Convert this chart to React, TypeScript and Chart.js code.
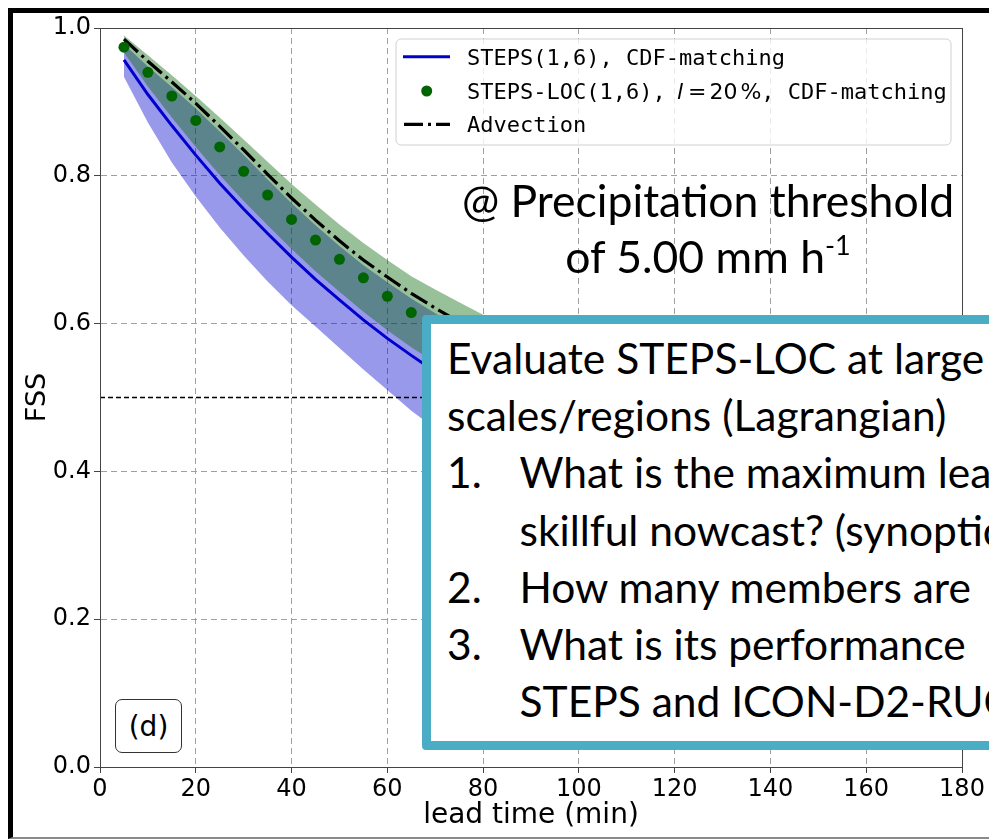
import React, { useEffect, useRef } from "react";
import { Chart, registerables } from "chart.js";
Chart.register(...registerables);

// ---------- data ----------
const leadTimes = [5, 10, 15, 20, 25, 30, 35, 40, 45, 50, 55, 60, 65, 70, 75, 80, 85, 90, 95, 100, 105, 110, 115, 120, 125, 130, 135, 140, 145, 150, 155, 160, 165, 170, 175, 180];
const stepsMean = [0.957, 0.910, 0.868, 0.828, 0.790, 0.755, 0.722, 0.690, 0.660, 0.632, 0.605, 0.580, 0.557, 0.535, 0.515, 0.496, 0.478, 0.461, 0.445, 0.430, 0.416, 0.402, 0.389, 0.377, 0.365, 0.354, 0.343, 0.333, 0.323, 0.314, 0.305, 0.297, 0.289, 0.281, 0.274, 0.267];
const stepsLow = [0.934, 0.872, 0.818, 0.772, 0.730, 0.692, 0.657, 0.625, 0.596, 0.567, 0.538, 0.510, 0.482, 0.458, 0.437, 0.418, 0.400, 0.383, 0.367, 0.352, 0.338, 0.325, 0.313, 0.301, 0.290, 0.280, 0.270, 0.261, 0.252, 0.244, 0.236, 0.229, 0.222, 0.215, 0.209, 0.203];
const stepsHigh = [0.978, 0.948, 0.920, 0.891, 0.860, 0.828, 0.795, 0.763, 0.733, 0.705, 0.679, 0.656, 0.634, 0.614, 0.595, 0.577, 0.560, 0.544, 0.529, 0.515, 0.501, 0.488, 0.476, 0.464, 0.453, 0.442, 0.432, 0.422, 0.413, 0.404, 0.395, 0.387, 0.379, 0.372, 0.365, 0.358];
const locMean = [0.974, 0.940, 0.908, 0.875, 0.839, 0.806, 0.774, 0.741, 0.713, 0.687, 0.662, 0.637, 0.615, 0.594, 0.575, 0.557, 0.540, 0.524, 0.509, 0.495, 0.481, 0.468, 0.456, 0.444, 0.433, 0.422, 0.412, 0.402, 0.393, 0.384, 0.375, 0.367, 0.359, 0.352, 0.345, 0.338];
const locLow = [0.967, 0.921, 0.879, 0.839, 0.801, 0.766, 0.733, 0.701, 0.671, 0.643, 0.616, 0.591, 0.568, 0.547, 0.527, 0.508, 0.490, 0.473, 0.457, 0.442, 0.428, 0.414, 0.401, 0.389, 0.377, 0.366, 0.355, 0.345, 0.335, 0.326, 0.317, 0.309, 0.301, 0.293, 0.286, 0.279];
const locHigh = [0.990, 0.963, 0.936, 0.908, 0.879, 0.849, 0.819, 0.789, 0.761, 0.734, 0.709, 0.686, 0.664, 0.646, 0.629, 0.612, 0.596, 0.581, 0.567, 0.553, 0.540, 0.527, 0.515, 0.503, 0.492, 0.481, 0.471, 0.461, 0.452, 0.443, 0.434, 0.426, 0.418, 0.410, 0.403, 0.396];
const advection = [0.985, 0.955, 0.927, 0.898, 0.867, 0.835, 0.802, 0.770, 0.740, 0.712, 0.686, 0.663, 0.641, 0.621, 0.602, 0.584, 0.567, 0.551, 0.536, 0.522, 0.508, 0.495, 0.483, 0.471, 0.460, 0.449, 0.439, 0.429, 0.420, 0.411, 0.402, 0.394, 0.386, 0.379, 0.372, 0.365];
const skillThreshold = [0.5, 0.5];
const thresholdX = [0, 180];

const xTickValues = [0, 20, 40, 60, 80, 100, 120, 140, 160, 180];
const xTickLabels = ["0", "20", "40", "60", "80", "100", "120", "140", "160", "180"];
const yTickValues = [0, 0.2, 0.4, 0.6, 0.8, 1.0];
const yTickLabels = ["0.0", "0.2", "0.4", "0.6", "0.8", "1.0"];

const legendLabels = ["STEPS(1,6), CDF-matching", "STEPS-LOC(1,6), ", "Advection"];
const xTitle = "lead time (min)";
const yTitle = "FSS";

const BLUE = "#0000cd";
const GREEN = "#006400";
const BLUE_FILL = "rgba(0,0,205,0.4)";
const GREEN_FILL = "rgba(0,100,0,0.4)";

const pts = (ys: number[]) => ys.map((y, i) => ({ x: leadTimes[i], y }));

const decorPlugin = {
  id: "decor",
  afterDatasetsDraw(chart: any) {
    const { ctx, chartArea } = chart;
    ctx.save();
    // frame (spines)
    ctx.strokeStyle = "#444";
    ctx.lineWidth = 1;
    ctx.setLineDash([]);
    ctx.strokeRect(Math.round(chartArea.left) + 0.5, Math.round(chartArea.top) + 0.5, Math.round(chartArea.right - chartArea.left), Math.round(chartArea.bottom - chartArea.top));

    // legend
    const bx = 396, by = 39, bw = 555, bh = 106, r = 5;
    ctx.beginPath();
    ctx.moveTo(bx + r, by);
    ctx.arcTo(bx + bw, by, bx + bw, by + bh, r);
    ctx.arcTo(bx + bw, by + bh, bx, by + bh, r);
    ctx.arcTo(bx, by + bh, bx, by, r);
    ctx.arcTo(bx, by, bx + bw, by, r);
    ctx.closePath();
    ctx.fillStyle = "rgba(255,255,255,0.8)";
    ctx.fill();
    ctx.strokeStyle = "#d0d0d0";
    ctx.lineWidth = 1;
    ctx.stroke();

    const rows = [56.7, 91, 124.3];
    const textX = 467;
    const mono = '22px "DejaVu Sans Mono"';
    ctx.fillStyle = "#000";
    ctx.textAlign = "left";
    ctx.textBaseline = "alphabetic";
    // row 1
    ctx.strokeStyle = BLUE;
    ctx.lineWidth = 3;
    ctx.beginPath();
    ctx.moveTo(403, rows[0]);
    ctx.lineTo(450, rows[0]);
    ctx.stroke();
    ctx.font = mono;
    ctx.fillText(legendLabels[0], textX, rows[0] + 8);
    // row 2
    ctx.fillStyle = GREEN;
    ctx.beginPath();
    ctx.arc(426.7, rows[1], 5.5, 0, Math.PI * 2);
    ctx.fill();
    ctx.fillStyle = "#000";
    let x = textX;
    const b2 = rows[1] + 8;
    ctx.font = mono;
    ctx.fillText(legendLabels[1], x, b2);
    x += ctx.measureText(legendLabels[1]).width - 2;
    ctx.font = 'oblique 22px "DejaVu Sans"';
    ctx.fillText("l", x, b2);
    x += ctx.measureText("l").width + 5;
    ctx.font = '22px "DejaVu Sans"';
    ctx.fillText("=", x, b2);
    x += ctx.measureText("=").width + 3;
    ctx.fillText("20", x, b2);
    x += ctx.measureText("20").width + 3;
    ctx.fillText("%", x, b2);
    x += ctx.measureText("%").width;
    ctx.font = mono;
    ctx.fillText(", CDF-matching", x, b2);
    // row 3
    ctx.strokeStyle = "#000";
    ctx.lineWidth = 3.2;
    ctx.setLineDash([19, 5, 3, 5]);
    ctx.beginPath();
    ctx.moveTo(404, rows[2]);
    ctx.lineTo(450, rows[2]);
    ctx.stroke();
    ctx.setLineDash([]);
    ctx.font = mono;
    ctx.fillText(legendLabels[2], textX, rows[2] + 8);

    ctx.restore();
  },
  afterDraw(chart: any) {
    const { ctx, chartArea } = chart;
    ctx.save();
    ctx.fillStyle = "#000";
    ctx.font = '28px "DejaVu Sans"';
    ctx.textAlign = "center";
    ctx.textBaseline = "alphabetic";
    ctx.fillText(xTitle, (chartArea.left + chartArea.right) / 2, 823);
    ctx.translate(45, (chartArea.top + chartArea.bottom) / 2);
    ctx.rotate(-Math.PI / 2);
    ctx.font = '27px "DejaVu Sans"';
    ctx.fillText(yTitle, 0, 0);
    ctx.restore();
  },
};

export default function App() {
  const ref = useRef<HTMLCanvasElement | null>(null);
  useEffect(() => {
    if (!ref.current) return;
    const tickFont = { family: "DejaVu Sans", size: 24 };
    const chart = new Chart(ref.current, {
      type: "line",
      data: {
        datasets: [
          { label: "stepsLow", data: pts(stepsLow), borderWidth: 0, borderColor: "rgba(0,0,0,0)", pointRadius: 0, fill: false, order: 7 },
          { label: "stepsHigh", data: pts(stepsHigh), borderWidth: 0, borderColor: "rgba(0,0,0,0)", pointRadius: 0, fill: "-1", backgroundColor: BLUE_FILL, order: 6 },
          { label: "locLow", data: pts(locLow), borderWidth: 0, borderColor: "rgba(0,0,0,0)", pointRadius: 0, fill: false, order: 5 },
          { label: "locHigh", data: pts(locHigh), borderWidth: 0, borderColor: "rgba(0,0,0,0)", pointRadius: 0, fill: "-1", backgroundColor: GREEN_FILL, order: 4 },
          { label: legendLabels[0], data: pts(stepsMean), borderColor: BLUE, borderWidth: 3, pointRadius: 0, fill: false, order: 3 },
          { label: legendLabels[2], data: pts(advection), borderColor: "#000", borderWidth: 3.2, borderDash: [19, 5, 3, 5], pointRadius: 0, fill: false, order: 2 },
          { label: "threshold", data: skillThreshold.map((y, i) => ({ x: thresholdX[i], y })), borderColor: "#000", borderWidth: 1.5, borderDash: [5, 3], pointRadius: 0, fill: false, order: 1 },
          { label: "STEPS-LOC", data: pts(locMean), showLine: false, pointRadius: 5.5, pointBackgroundColor: GREEN, pointBorderWidth: 0, fill: false, order: 0 },
        ],
      },
      options: {
        animation: false,
        responsive: false,
        devicePixelRatio: 1,
        layout: { padding: { left: 0, right: 27, top: 28, bottom: 0 } },
        elements: { line: { tension: 0 } },
        plugins: { legend: { display: false }, tooltip: { enabled: false } },
        scales: {
          x: {
            type: "linear",
            min: 0,
            max: 180,
            afterFit: (s: any) => { s.height = 73; },
            afterBuildTicks: (s: any) => { s.ticks = xTickValues.map((value) => ({ value })); },
            ticks: {
              autoSkip: false,
              maxRotation: 0,
              font: tickFont,
              color: "#000",
              padding: 2,
              callback: (v: any) => { const i = xTickValues.indexOf(Number(v)); return i >= 0 ? xTickLabels[i] : ""; },
            },
            grid: { color: "#a0a0a0", lineWidth: 1, tickLength: 6, tickColor: "#444", tickWidth: 1 },
            border: { display: true, color: "#444", width: 1, dash: [6, 4] },
          },
          y: {
            type: "linear",
            min: 0,
            max: 1,
            afterFit: (s: any) => { s.width = 100; },
            afterBuildTicks: (s: any) => { s.ticks = yTickValues.map((value) => ({ value })); },
            ticks: {
              autoSkip: false,
              font: tickFont,
              color: "#000",
              padding: 3,
              callback: (v: any) => { const i = yTickValues.findIndex((t) => Math.abs(t - Number(v)) < 1e-9); return i >= 0 ? yTickLabels[i] : ""; },
            },
            grid: { color: "#a0a0a0", lineWidth: 1, tickLength: 6, tickColor: "#444", tickWidth: 1 },
            border: { display: true, color: "#444", width: 1, dash: [6, 4] },
          },
        },
      },
      plugins: [decorPlugin],
    } as any);
    return () => chart.destroy();
  }, []);

  const boxLine: React.CSSProperties = { whiteSpace: "nowrap", height: 57.2, lineHeight: "57.2px" };
  const item = (num: string | null, text: string) => (
    <div style={{ ...boxLine, position: "relative", paddingLeft: 72.5 }}>
      {num ? <span style={{ position: "absolute", left: 0, top: 0 }}>{num}</span> : null}
      {text}
    </div>
  );

  return (
    <div style={{ position: "fixed", left: 0, top: 0, width: 989, height: 840, overflow: "hidden", background: "#fff" }}>
      <canvas ref={ref} width={989} height={840} style={{ position: "absolute", left: 0, top: 0, width: 989, height: 840 }} />
      <div style={{ position: "absolute", left: 8, top: 8, width: 1200, height: 831, boxSizing: "border-box", borderTop: "5px solid #000", borderLeft: "5px solid #000", borderBottom: "2px solid #8a8a8a" }} />
      <div style={{ position: "absolute", left: 408, top: 171.5, width: 600, textAlign: "center", fontFamily: "Lato", fontSize: 44.5, lineHeight: "56px", color: "#000", whiteSpace: "nowrap" }}>
        <div>@ Precipitation threshold</div>
        <div>of 5.00 mm h<sup style={{ fontSize: 27, verticalAlign: "baseline", position: "relative", top: -18 }}>-1</sup></div>
      </div>
      <div style={{ position: "absolute", left: 115, top: 699, width: 67, height: 54, boxSizing: "border-box", border: "1.3px solid #333", borderRadius: 7, background: "#fff", fontFamily: "DejaVu Sans", fontSize: 28, display: "flex", alignItems: "center", justifyContent: "center" }}>(d)</div>
      <div style={{ position: "absolute", left: 422, top: 315, width: 800, height: 435, boxSizing: "border-box", border: "9px solid #4BACC6", borderRadius: 4, background: "#fff", fontFamily: "Lato", fontSize: 42.5, color: "#000", paddingTop: 5, paddingLeft: 16 }}>
        <div style={boxLine}>Evaluate STEPS-LOC at large</div>
        <div style={boxLine}>scales/regions (Lagrangian)</div>
        {item("1.", "What is the maximum lead")}
        {item(null, "skillful nowcast? (synoptic")}
        {item("2.", "How many members are")}
        {item("3.", "What is its performance")}
        {item(null, "STEPS and ICON-D2-RUC")}
      </div>
    </div>
  );
}
